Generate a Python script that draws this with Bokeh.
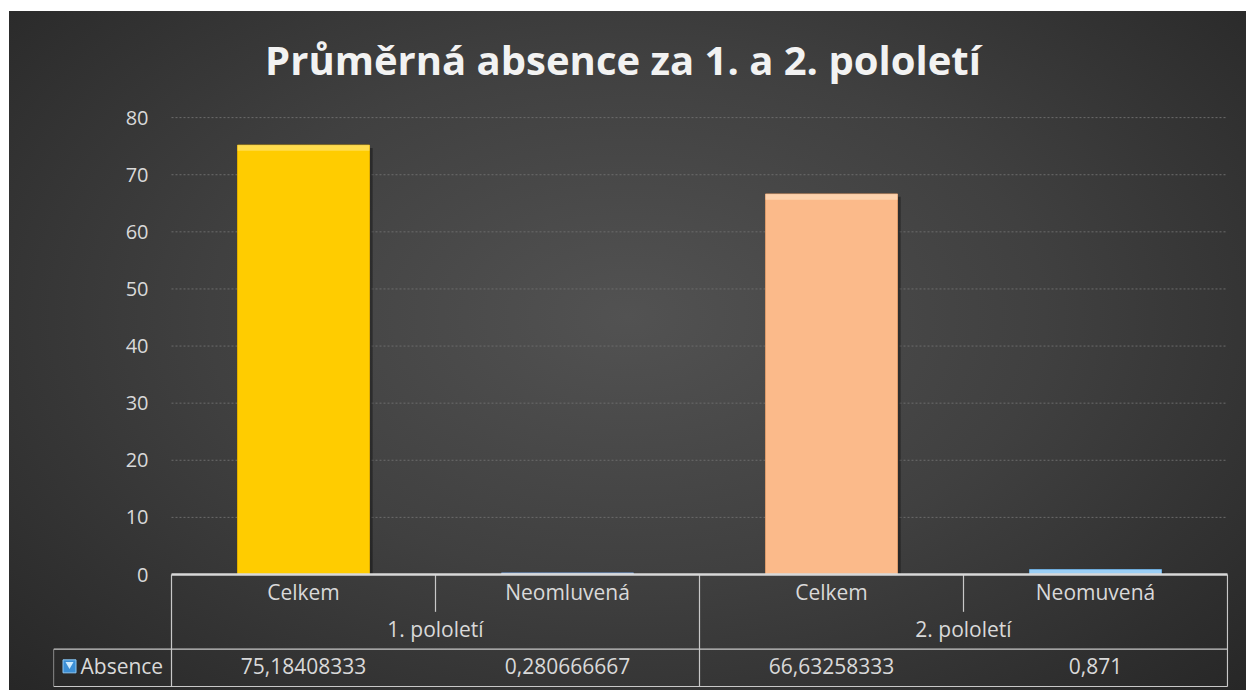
from bokeh.plotting import figure
from bokeh.models import Range1d, FixedTicker, ColumnDataSource
from bokeh.embed import file_html
from bokeh.resources import INLINE
from bokeh.core.properties import value

# ---------------- data ----------------
title_text = "Průměrná absence za 1. a 2. pololetí"
groups = ["1. pololetí", "1. pololetí", "2. pololetí", "2. pololetí"]
categories = ["Celkem", "Neomluvená", "Celkem", "Neomuvená"]
values = [75.18408333, 0.280666667, 66.63258333, 0.871]
value_labels = ["75,18408333", "0,280666667", "66,63258333", "0,871"]
series_name = "Absence"
y_ticks = [0, 10, 20, 30, 40, 50, 60, 70, 80]

# ---------------- styles ----------------
bar_colors = ["#FFCC00", "#8FB4E3", "#FBBA8A", "#71B8EE"]
bar_lines = ["#E0AE00", "#6E94C8", "#DB9A6A", "#4F97D0"]
bar_highlights = ["#FFE680", "#C6DBF5", "#FFE2C4", "#B8DEFA"]
text_col = "#D9D9D9"
FONT = "Open Sans"
W, H = 1237, 679
n = len(categories)

# geometry (pixels)
col_px = 264.0            # width of one category column
label_px = 118.0          # width of the series-name column (left of the table)
px_per_unit = 5.711       # vertical pixels per value unit
row_px = 37.33            # height of one table row
zero_px = 563             # distance of the value 0 from the top of the canvas
y_top = zero_px / px_per_unit
y_bot = -(H - zero_px) / px_per_unit
row_u = row_px / px_per_unit

xl = -label_px / col_px
xs = [i + 0.5 for i in range(n)]

src = ColumnDataSource(dict(
    x=xs, top=values, color=bar_colors, line=bar_lines, hi=bar_highlights,
    hi_bottom=[max(0.0, v - 1.0) for v in values],
    sh_x=[x + 0.012 for x in xs],
    sh_top=[max(0.0, v - 0.5) for v in values],
))

p = figure(
    x_range=Range1d(xl, n + 1 / col_px),
    y_range=Range1d(y_bot, y_top),
    width=W, height=H,
    output_backend="svg", toolbar_location=None,
    x_axis_location=None,
    min_border_left=44, min_border_right=18, min_border_top=0, min_border_bottom=0,
    styles={
        "background": "radial-gradient(ellipse 75% 85% at 50% 45%, #525252 0%, #404040 45%, #232323 100%)",
        "margin-left": "9px", "margin-top": "11px",
    },
)
p.background_fill_color = None
p.border_fill_color = None
p.outline_line_color = None
p.grid.visible = False

ax = p.yaxis[0]
ax.ticker = FixedTicker(ticks=y_ticks)
ax.axis_line_color = None
ax.major_tick_line_color = None
ax.minor_tick_line_color = None
ax.major_tick_out = 0
ax.major_tick_in = 0
ax.major_label_standoff = -95
ax.major_label_text_font = FONT
ax.major_label_text_font_size = "20px"
ax.major_label_text_color = text_col

# chart title, centred over the chart area
title_x = (623.5 - 10 - 44) / col_px + xl
title_y = y_top - 48 / px_per_unit
p.text(x=[title_x], y=[title_y], text=[title_text], text_align="center", text_baseline="middle",
       text_font=value(FONT), text_font_size="40px", text_font_style="bold", text_color="#F2F2F2")

# horizontal gridlines over the plotting columns only
p.segment(x0=[0] * len(y_ticks), x1=[n] * len(y_ticks), y0=y_ticks, y1=y_ticks,
          line_color="#6C6C6C", line_dash="2 2", line_width=1)

# shadow, bar, highlight band
p.vbar(x="sh_x", top="sh_top", width=0.5, source=src,
       fill_color="black", fill_alpha=0.35, line_color=None)
p.vbar(x="x", top="top", width=0.5, source=src, fill_color="color", line_color="line", line_width=1)
p.vbar(x="x", top="top", bottom="hi_bottom", width=0.5, source=src,
       fill_color="hi", fill_alpha=0.6, line_color=None)

# ---------------- data table ----------------
r1, r2, r3 = -row_u, -2 * row_u, -3 * row_u
gstarts = [i for i in range(n) if i == 0 or groups[i] != groups[i - 1]]
x0s, y0s, x1s, y1s = [], [], [], []
for i in range(n + 1):
    full = (i in gstarts) or i == n
    x0s.append(i); x1s.append(i); y0s.append(0); y1s.append(r3 if full else r1)
x0s += [xl, xl, xl]; x1s += [n, n, xl]; y0s += [r2, r3, r2]; y1s += [r2, r3, r3]
p.segment(x0=x0s, y0=y0s, x1=x1s, y1=y1s, line_color="#C8C8C8", line_width=1.2)
# brighter, thicker top edge of the table (the category axis line)
p.segment(x0=[0], y0=[0], x1=[n], y1=[0], line_color="#D8D8D8", line_width=2.5)

def ty(row):
    return -(row + 0.46) * row_u

p.text(x=xs, y=[ty(0)] * n, text=categories, text_align="center", text_baseline="middle",
       text_font=value(FONT), text_font_size="21px", text_color=text_col)
ug = []
for g in groups:
    if g not in ug:
        ug.append(g)
gx = [sum(xs[i] for i in range(n) if groups[i] == g) / groups.count(g) for g in ug]
p.text(x=gx, y=[ty(1)] * len(ug), text=ug, text_align="center", text_baseline="middle",
       text_font=value(FONT), text_font_size="21px", text_color=text_col)
p.text(x=xs, y=[ty(2)] * n, text=value_labels, text_align="center", text_baseline="middle",
       text_font=value(FONT), text_font_size="21px", text_color=text_col)

# legend key + series name
kx = xl + 16 / col_px
p.scatter(x=[kx], y=[ty(2)], marker="square", size=13,
          fill_color="#3C8FD6", line_color="#8CC8F5")
p.scatter(x=[kx], y=[ty(2) + 0.35], marker="inverted_triangle", size=8,
          fill_color="#CDEBFF", line_color=None)
p.text(x=[xl + 27 / col_px], y=[ty(2)], text=[series_name], text_align="left", text_baseline="middle",
       text_font=value(FONT), text_font_size="21px", text_color=text_col)

open("out.html", "w").write(file_html(p, INLINE))
